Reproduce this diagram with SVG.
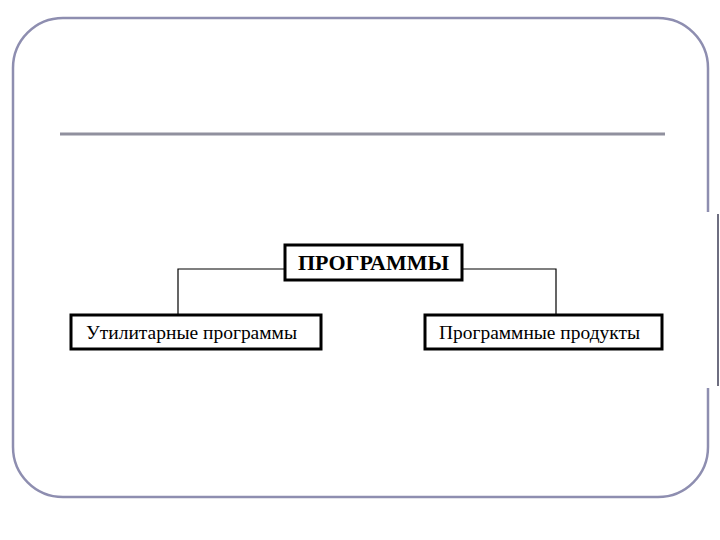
<svg xmlns="http://www.w3.org/2000/svg" width="720" height="540" viewBox="0 0 720 540">
  <style>
    .frame { fill: none; stroke: #8e8eb0; stroke-width: 2.5; }
    .box { fill: #ffffff; stroke: #000000; stroke-width: 3; }
    .conn { fill: none; stroke: #000000; stroke-width: 1.2; }
    .lbl { font-family: "Liberation Serif", "Times New Roman", serif; fill: #000000; }
  </style>
  <rect x="0" y="0" width="720" height="540" fill="#ffffff"/>
  <g id="frame">
    <path class="frame" d="M 708 212 L 708 68 A 50 50 0 0 0 658 18 L 63 18 A 50 50 0 0 0 13 68 L 13 447 A 50 50 0 0 0 63 497 L 658 497 A 50 50 0 0 0 708 447 L 708 388"/>
    <line x1="718" y1="214" x2="718" y2="386" stroke="#6e6e80" stroke-width="2"/>
    <line x1="60" y1="134" x2="665" y2="134" stroke="#90909e" stroke-width="3"/>
  </g>
  <g id="connectors">
    <polyline class="conn" points="285,269 178,269 178,315"/>
    <polyline class="conn" points="462,269 556,269 556,315"/>
  </g>
  <g id="node-programs">
    <rect class="box" x="285" y="245" width="177" height="35"/>
    <text class="lbl" x="298" y="270" font-size="20" font-weight="bold" textLength="151" lengthAdjust="spacingAndGlyphs">ПРОГРАММЫ</text>
  </g>
  <g id="node-utility">
    <rect class="box" x="71" y="315" width="250" height="34"/>
    <text class="lbl" x="86" y="339" font-size="18" textLength="211" lengthAdjust="spacingAndGlyphs">Утилитарные программы</text>
  </g>
  <g id="node-products">
    <rect class="box" x="425" y="315" width="237" height="34"/>
    <text class="lbl" x="439" y="339" font-size="18" textLength="201" lengthAdjust="spacingAndGlyphs">Программные продукты</text>
  </g>
</svg>
